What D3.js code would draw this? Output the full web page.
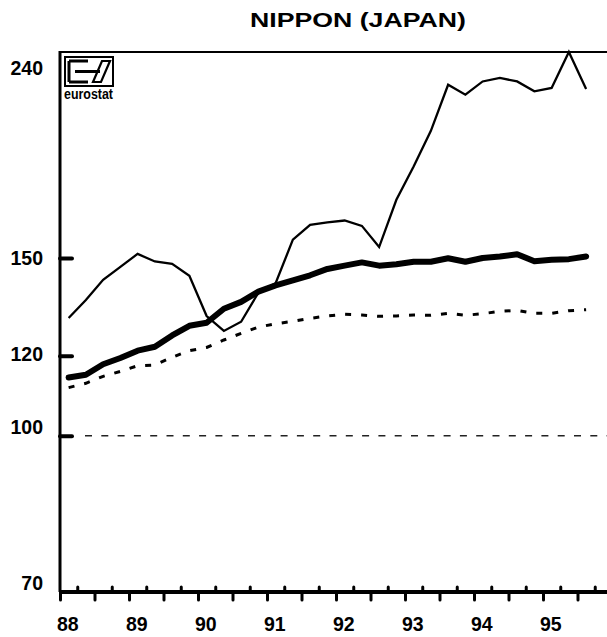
<!DOCTYPE html>
<html><head><meta charset="utf-8">
<script src="https://cdn.jsdelivr.net/npm/d3@7"></script>
<style>
html,body{margin:0;padding:0;background:#fff;}
svg{display:block;font-family:"Liberation Sans",Arial,sans-serif;}
</style></head>
<body><svg id="c" width="607" height="637"></svg>
<script>
// ---- data ----
const quarters = ["88Q1","88Q2","88Q3","88Q4","89Q1","89Q2","89Q3","89Q4","90Q1","90Q2","90Q3","90Q4",
  "91Q1","91Q2","91Q3","91Q4","92Q1","92Q2","92Q3","92Q4","93Q1","93Q2","93Q3","93Q4",
  "94Q1","94Q2","94Q3","94Q4","95Q1","95Q2","95Q3"];
const thinSeries = [130.8,136.3,142.7,147.0,151.4,148.8,148.0,144.0,131.4,127.0,129.7,138.6,
  141.6,156.4,161.8,162.7,163.4,161.4,153.8,171.3,184.8,200.5,222.7,217.7,
  224.4,226.2,224.4,219.4,221.1,240.0,220.6];
const thickSeries = [114.2,114.9,117.7,119.4,121.4,122.5,125.7,128.5,129.4,133.6,135.7,138.9,
  140.9,142.5,144.2,146.3,147.4,148.5,147.4,147.9,148.7,148.7,149.9,148.7,
  150.0,150.5,151.3,148.9,149.4,149.6,150.5];
const dottedSeries = [111.6,112.7,114.5,115.8,117.3,117.5,119.6,121.4,122.3,124.4,126.3,128.1,
  129.1,129.8,130.7,131.4,131.9,131.7,131.3,131.4,131.7,131.6,132.2,131.6,
  132.1,132.8,133.1,132.2,132.2,133.0,133.3];
const yearLabels = ["88","89","90","91","92","93","94","95"];
const yTickValues = [240,150,120,100,70];
const yInnerTicks = [150,120,100];
const baseValue = 100;
const title = "NIPPON (JAPAN)";

// ---- layout ----
const svg = d3.select("#c");
const L = 60, T = 52, B = 592, R = 607;
const x = d3.scaleLinear().domain([0, 32]).range([L, L + 32*17.25]);
const y = d3.scaleLog().domain([70, 240]).range([B, T]);
const labelDy = {240: 16, 150: 0, 120: -2, 100: -9, 70: -9};

// title
svg.append("text").attr("x", 358).attr("y", 27).attr("text-anchor","middle")
  .attr("font-size", 19.5).attr("font-weight","bold")
  .attr("textLength", 216).attr("lengthAdjust","spacingAndGlyphs").text(title);

// baseline 100 dashed
svg.append("line").attr("x1", 85).attr("x2", R).attr("y1", y(baseValue)).attr("y2", y(baseValue))
  .attr("stroke","#222").attr("stroke-width",1.6).attr("stroke-dasharray","7,9.3");

// frame
svg.append("line").attr("x1", L).attr("x2", R).attr("y1", T).attr("y2", T)
  .attr("stroke","#000").attr("stroke-width",2);
svg.append("line").attr("x1", L).attr("x2", L).attr("y1", T-1).attr("y2", B)
  .attr("stroke","#000").attr("stroke-width",3);

// y labels
const yLab = svg.append("g").attr("transform",`translate(${L},0)`)
  .call(d3.axisLeft(y).tickValues(yTickValues).tickSize(0).tickPadding(17).tickFormat(d3.format("d")));
yLab.select(".domain").remove();
yLab.selectAll("text").attr("font-size",19.5).attr("font-weight","bold")
  .attr("font-family","'Liberation Sans',Arial,sans-serif").attr("fill","#000")
  .attr("dy", d => (0.34*19.5 + labelDy[d]) + "px");

// y inner ticks
const yTk = svg.append("g").attr("transform",`translate(${L},0)`)
  .call(d3.axisRight(y).tickValues(yInnerTicks).tickSize(12).tickFormat(""));
yTk.select(".domain").remove();
yTk.selectAll("line").attr("stroke","#000").attr("stroke-width",4).attr("stroke-linecap","round");

// x axis ticks: alternating down (half-years) and up (quarters between)
const down = d3.range(0, 32, 2), up = d3.range(1, 32, 2);
const xDown = svg.append("g").attr("transform",`translate(0,${B})`)
  .call(d3.axisBottom(x).tickValues(down).tickSize(8).tickFormat(""));
xDown.select(".domain").remove();
const xUp = svg.append("g").attr("transform",`translate(0,${B})`)
  .call(d3.axisTop(x).tickValues(up).tickSize(5).tickFormat(""));
xUp.select(".domain").remove();
[xDown, xUp].forEach(g => g.selectAll("line")
  .attr("stroke","#000").attr("stroke-width",3).attr("stroke-linecap","round"));
svg.append("line").attr("x1", L-1).attr("x2", R).attr("y1", B).attr("y2", B)
  .attr("stroke","#000").attr("stroke-width",4);

// year labels
svg.append("g").selectAll("text").data(yearLabels).join("text")
  .attr("x", (d,i) => x(i*4) - 3).attr("y", 631)
  .attr("font-size",19.5).attr("font-weight","bold").text(d => d);

// series lines
const line = d3.line().x((d,i) => x(i + 0.5)).y(d => y(d));
svg.append("path").datum(dottedSeries).attr("d", line).attr("fill","none")
  .attr("stroke","#000").attr("stroke-width",3).attr("stroke-dasharray","6,10");
svg.append("path").datum(thickSeries).attr("d", line).attr("fill","none")
  .attr("stroke","#000").attr("stroke-width",6).attr("stroke-linejoin","round").attr("stroke-linecap","round");
svg.append("path").datum(thinSeries).attr("d", line).attr("fill","none")
  .attr("stroke","#000").attr("stroke-width",2.3).attr("stroke-linejoin","miter");

// eurostat logo
const lg = svg.append("g");
lg.append("rect").attr("x",65).attr("y",57).attr("width",48).attr("height",29)
  .attr("fill","#fff").attr("stroke","#000").attr("stroke-width",2);
lg.append("path").attr("d","M69,61 H88 M69,61 V82 M69,82 H88 M75,71.5 H100")
  .attr("stroke","#000").attr("stroke-width",3).attr("fill","none");
lg.append("path").attr("d","M93,82 L102,61 H110 L101,82 Z").attr("fill","none")
  .attr("stroke","#000").attr("stroke-width",2.2);
lg.append("text").attr("x",64).attr("y",99).attr("font-size",14).attr("font-weight","bold")
  .attr("textLength",49).attr("lengthAdjust","spacingAndGlyphs").text("eurostat");
</script></body></html>
